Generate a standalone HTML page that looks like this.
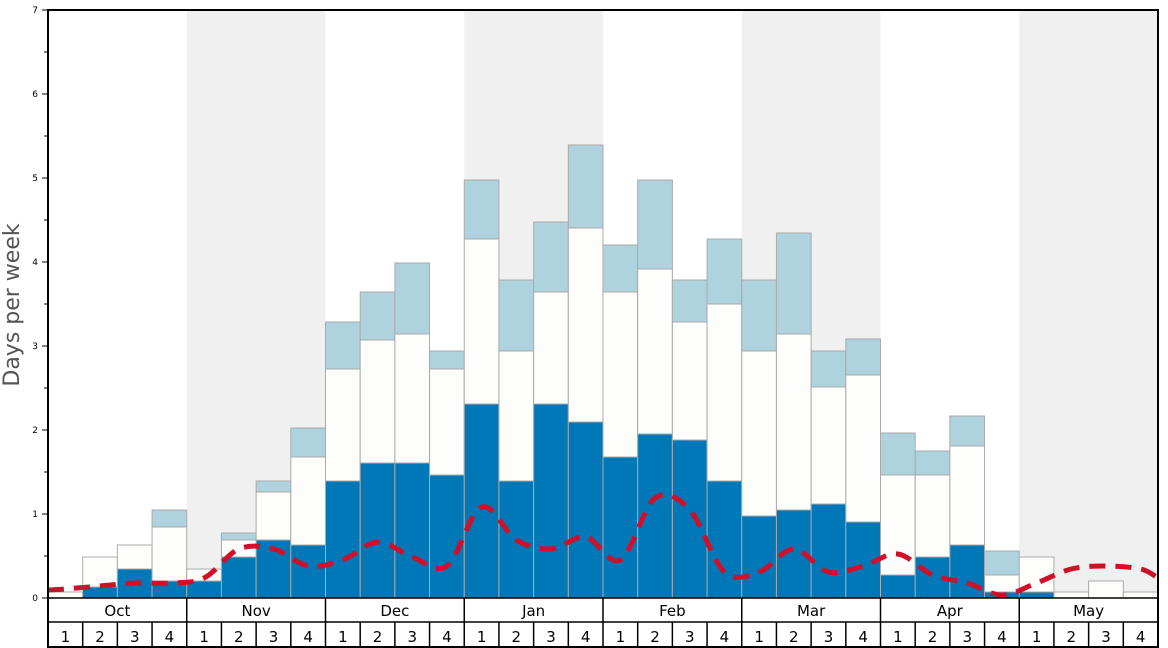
<!DOCTYPE html><html><head><style>body{margin:0;background:#fff}svg{display:block}text{font-family:"DejaVu Sans","Liberation Sans",sans-serif}</style></head><body>
<svg id="s" width="1168" height="648" xmlns="http://www.w3.org/2000/svg"></svg>
<script>
const s=document.getElementById('s');let h='';
const X0=48,W=1110/32,Y0=598,U=84;
[1,3,5,7].forEach(m=>{h+=`<rect x="${X0+m*4*W}" y="10" width="${4*W}" height="588" fill="#f0f0f0"/>`});
const d=[[598,592,null],[587,557,null],[569,545,null],[581,527,510],[581,569,null],[557,540,533],[540,492,481],[545,457,428],
[481,369,322],[463,340,292],[463,334,263],[475,369,351],[404,239,180],[481,351,280],[404,292,222],[422,228,145],
[457,292,245],[434,269,180],[440,322,280],[481,304,239],[516,351,280],[510,334,233],[504,387,351],[522,375,339],
[575,475,433],[557,475,451],[545,446,416],[592,575,551],[592,557,null],[598,592,null],[598,581,null],[598,592,null]];
d.forEach((v,i)=>{const x=X0+i*W;
if(v[2]!==null)h+=`<rect x="${x}" y="${v[2]}" width="${W}" height="${v[1]-v[2]}" fill="#aed3df" stroke="#aaa" stroke-width="1"/>`;
h+=`<rect x="${x}" y="${v[1]}" width="${W}" height="${v[0]-v[1]}" fill="#fdfdfb" stroke="#aaa" stroke-width="1"/>`;
if(v[0]<598)h+=`<rect x="${x}" y="${v[0]}" width="${W}" height="${598-v[0]}" fill="#0077b6" stroke="#aaa" stroke-width="1"/>`;});
const ly=[589,586,583,583,578,549,549,566,560,542,557,566,507,540,549,537,560,498,510,572,572,549,572,566,554,575,583,595,583,569,566,569];
const pts=[[48,590]];ly.forEach((y,i)=>pts.push([X0+(i+.5)*W,y]));pts.push([1158,578]);
let p=`M${pts[0][0]} ${pts[0][1]}`;
for(let i=0;i<pts.length-1;i++){const a=pts[Math.max(0,i-1)],b=pts[i],c=pts[i+1],e=pts[Math.min(pts.length-1,i+2)];
const c1=[b[0]+(c[0]-a[0])/6,b[1]+(c[1]-a[1])/6],c2=[c[0]-(e[0]-b[0])/6,c[1]-(e[1]-b[1])/6];
p+=` C${c1[0].toFixed(1)} ${c1[1].toFixed(1)} ${c2[0].toFixed(1)} ${c2[1].toFixed(1)} ${c[0].toFixed(1)} ${c[1]}`;}
h+=`<path d="${p}" fill="none" stroke="#d0102a" stroke-width="5" stroke-dasharray="16,10"/>`;
h+=`<rect x="48" y="10" width="1110" height="637" fill="none" stroke="#000" stroke-width="2"/>`;
h+=`<line x1="48" y1="598" x2="1158" y2="598" stroke="#000" stroke-width="1.5"/><line x1="48" y1="622" x2="1158" y2="622" stroke="#000" stroke-width="1.5"/>`;
for(let i=0;i<=14;i++){const y=Y0-i*U/2;h+=`<line x1="${i%2?44:42}" y1="${y}" x2="48" y2="${y}" stroke="#000"/>`;if(i%2==0)h+=`<text x="38" y="${y+3}" font-size="9" text-anchor="end">${i/2}</text>`}
const M=['Oct','Nov','Dec','Jan','Feb','Mar','Apr','May'];
M.forEach((m,i)=>{const x=X0+i*4*W;if(i)h+=`<line x1="${x}" y1="598" x2="${x}" y2="647" stroke="#000" stroke-width="1.5"/>`;h+=`<text x="${x+2*W}" y="616" font-size="15" text-anchor="middle">${m}</text>`;
for(let k=0;k<4;k++){const wx=x+k*W;if(k)h+=`<line x1="${wx}" y1="622" x2="${wx}" y2="647" stroke="#000" stroke-width="1.5"/>`;h+=`<text x="${wx+W/2}" y="642" font-size="15" text-anchor="middle">${k+1}</text>`}});
h+=`<text transform="translate(19,305) rotate(-90)" font-size="22" fill="#555" text-anchor="middle">Days per week</text>`;
s.innerHTML=h;
</script></body></html>
